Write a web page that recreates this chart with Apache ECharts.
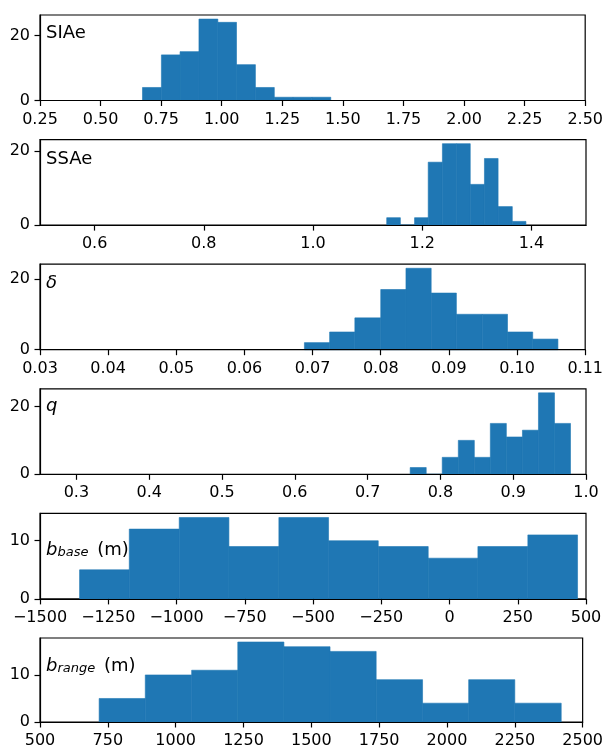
<!DOCTYPE html>
<html>
<head>
<meta charset="utf-8">
<script src="https://cdn.jsdelivr.net/npm/echarts@6/dist/echarts.min.js"></script>
<style>
  html, body { margin: 0; padding: 0; background: #fff; }
  #chart { width: 606px; height: 749px; }
</style>
</head>
<body>
<div id="chart"></div>
<script>
// histogram bin edges and counts
const siaeEdges = [0.673, 0.751, 0.828, 0.906, 0.984, 1.061, 1.139, 1.217, 1.294, 1.372, 1.450]
const siaeCounts = [4, 14, 15, 25, 24, 11, 4, 1, 1, 1]
const ssaeEdges = [1.135, 1.160, 1.186, 1.211, 1.237, 1.263, 1.288, 1.314, 1.339, 1.365, 1.390]
const ssaeCounts = [2, 0, 2, 17, 22, 22, 11, 18, 5, 1]
const deltaEdges = [0.0688, 0.0725, 0.0762, 0.0800, 0.0837, 0.0874, 0.0911, 0.0949, 0.0986, 0.1023, 0.1060]
const deltaCounts = [2, 5, 9, 17, 23, 16, 10, 10, 5, 3]
const qEdges = [0.7585, 0.7805, 0.8025, 0.8246, 0.8466, 0.8686, 0.8906, 0.9127, 0.9347, 0.9567, 0.9787]
const qCounts = [2, 0, 5, 10, 5, 15, 11, 13, 24, 15]
const bBaseEdges = [-1355, -1173, -990, -808, -625, -443, -261, -78, 104, 287, 469]
const bBaseCounts = [5, 12, 14, 9, 14, 10, 9, 7, 9, 11]
const bRangeEdges = [718, 888, 1059, 1229, 1399, 1569, 1739, 1910, 2080, 2250, 2421]
const bRangeCounts = [5, 10, 11, 17, 16, 15, 9, 4, 9, 4]

// axis ticks
const siaeTicks = [0.25, 0.5, 0.75, 1.0, 1.25, 1.5, 1.75, 2.0, 2.25, 2.5]
const ssaeTicks = [0.6, 0.8, 1.0, 1.2, 1.4]
const deltaTicks = [0.03, 0.04, 0.05, 0.06, 0.07, 0.08, 0.09, 0.10, 0.11]
const qTicks = [0.3, 0.4, 0.5, 0.6, 0.7, 0.8, 0.9, 1.0]
const bBaseTicks = [-1500, -1250, -1000, -750, -500, -250, 0, 250, 500]
const bRangeTicks = [500, 750, 1000, 1250, 1500, 1750, 2000, 2250, 2500]
const countTicksA = [0, 20]
const countTicksB = [0, 10]

const FONT = 'DejaVu Sans'
const BLUE = '#1f77b4'

const panels = [
	{ edges: siaeEdges, counts: siaeCounts, ticks: siaeTicks, dec: 2, xMin: 0.25, xMax: 2.5, yTicks: countTicksA,
		label: 'SIAe', labelTop: 24 },
	{ edges: ssaeEdges, counts: ssaeCounts, ticks: ssaeTicks, dec: 1, xMin: 0.5, xMax: 1.5, yTicks: countTicksA,
		label: 'SSAe', labelTop: 150 },
	{ edges: deltaEdges, counts: deltaCounts, ticks: deltaTicks, dec: 2, xMin: 0.03, xMax: 0.11, yTicks: countTicksA,
		label: '{i|δ}', labelTop: 274 },
	{ edges: qEdges, counts: qCounts, ticks: qTicks, dec: 1, xMin: 0.25, xMax: 1.0, yTicks: countTicksA,
		label: '{i|q}', labelTop: 397 },
	{ edges: bBaseEdges, counts: bBaseCounts, ticks: bBaseTicks, dec: 0, xMin: -1500, xMax: 500, yTicks: countTicksB,
		label: '{i|b}{s|base} (m)', labelTop: 541 },
	{ edges: bRangeEdges, counts: bRangeCounts, ticks: bRangeTicks, dec: 0, xMin: 500, xMax: 2500, yTicks: countTicksB,
		label: '{i|b}{s|range} (m)', labelTop: 657 }
]

const grids = [], xAxes = [], yAxes = [], series = [], titles = []

panels.forEach((p, i) => {
	const top = 15 + i * 124.6
	grids.push({ left: 40, right: 20, top: top, height: 85.5, show: true,
		borderColor: '#000', borderWidth: 1.2 })

	xAxes.push({
		type: 'value', gridIndex: i, min: p.xMin, max: p.xMax, z: 10,
		axisLine: { onZero: false, lineStyle: { color: '#000', width: 1.2 } },
		axisTick: { length: 5.5, customValues: p.ticks, lineStyle: { color: '#000', width: 1.2 } },
		axisLabel: {
			customValues: p.ticks, margin: 11, color: '#000', fontSize: 16, fontFamily: FONT,
			formatter: v => v.toFixed(p.dec).replace('-', '\u2212')
		},
		splitLine: { show: false }
	})

	yAxes.push({
		type: 'value', gridIndex: i, min: 0, max: Math.max(...p.counts) * 1.05,
		axisLine: { show: true, onZero: false, lineStyle: { color: '#000', width: 1.2 } },
		axisTick: { show: true, length: 5.5, customValues: p.yTicks, lineStyle: { color: '#000', width: 1.2 } },
		axisLabel: { customValues: p.yTicks, margin: 10, color: '#000', fontSize: 16, fontFamily: FONT },
		splitLine: { show: false }
	})

	series.push({
		type: 'custom', xAxisIndex: i, yAxisIndex: i,
		encode: { x: [0, 1], y: 2 },
		data: p.counts.map((c, k) => [p.edges[k], p.edges[k + 1], c]),
		renderItem: (params, api) => {
			const a = api.coord([api.value(0), api.value(2)])
			const b = api.coord([api.value(1), 0])
			return { type: 'rect', shape: { x: a[0], y: a[1], width: b[0] - a[0], height: b[1] - a[1] },
				style: { fill: BLUE, stroke: BLUE, lineWidth: 0.6 } }
		}
	})

	titles.push({
		text: p.label, left: 46, top: p.labelTop, padding: 0,
		textStyle: {
			fontSize: 18, fontWeight: 'normal', color: '#000', fontFamily: FONT,
			rich: {
				i: { fontSize: 18, fontStyle: 'italic', fontFamily: FONT, color: '#000' },
				s: { fontSize: 13, fontStyle: 'italic', fontFamily: FONT, color: '#000',
					lineHeight: 8, verticalAlign: 'bottom', padding: [0, 3, 0, 0] }
			}
		}
	})
})

const myChart = echarts.init(document.getElementById('chart'), null, { renderer: 'canvas' })
myChart.setOption({
	animation: false,
	title: titles,
	grid: grids,
	xAxis: xAxes,
	yAxis: yAxes,
	series: series
})
</script>
</body>
</html>
